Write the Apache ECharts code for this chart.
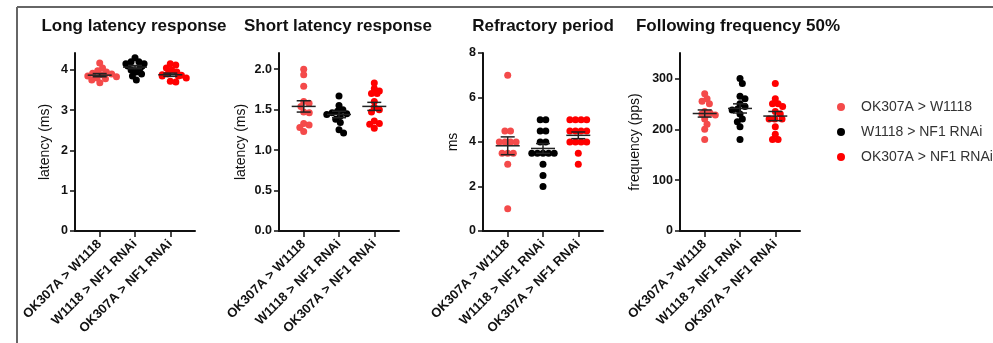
<!DOCTYPE html>
<html>
<head>
<meta charset="utf-8">
<script src="https://cdn.jsdelivr.net/npm/echarts@6/dist/echarts.min.js"></script>
<style>
  html, body { margin: 0; padding: 0; background: #fff; }
  #chart { width: 993px; height: 343px; }
</style>
</head>
<body>
<div id="chart"></div>
<script>
// groups shared by every panel
const groups = ['OK307A > W1118', 'W1118 > NF1 RNAi', 'OK307A > NF1 RNAi'];
const groupColors = ['#f44a4a', '#000000', '#ff0000'];

const titles = ['Long latency response', 'Short latency response', 'Refractory period', 'Following frequency 50%'];
const yNames = ['latency (ms)', 'latency (ms)', 'ms', 'frequency (pps)'];
const yMax = [4.42, 2.2, 8, 350];
const yTicks = [[0, 1, 2, 3, 4], [0, 0.5, 1, 1.5, 2], [0, 2, 4, 6, 8], [0, 100, 200, 300]];
const yDecimals = [0, 1, 0, 0];

// individual animals, one array per group
const longLatency = [
    [4.17, 4.05, 3.98, 3.95, 3.92, 3.9, 3.88, 3.85, 3.83, 3.8, 3.78, 3.75, 3.68],
    [4.3, 4.2, 4.2, 4.15, 4.15, 4.1, 4.1, 4.05, 4.0, 3.95, 3.9, 3.85, 3.75],
    [4.15, 4.12, 4.05, 4.0, 3.95, 3.9, 3.88, 3.87, 3.85, 3.85, 3.8, 3.72, 3.7]
];
const shortLatency = [
    [2.0, 1.93, 1.79, 1.6, 1.58, 1.54, 1.47, 1.46, 1.33, 1.31, 1.28, 1.23],
    [1.67, 1.55, 1.5, 1.48, 1.46, 1.45, 1.44, 1.42, 1.38, 1.34, 1.25, 1.21],
    [1.83, 1.76, 1.73, 1.7, 1.7, 1.6, 1.53, 1.5, 1.47, 1.36, 1.33, 1.32, 1.27]
];
const refractory = [
    [7, 4.5, 4.5, 4, 4, 4, 4, 3.5, 3.5, 3.5, 3, 1],
    [5, 5, 4.5, 4.5, 4, 4, 3.5, 3.5, 3.5, 3.5, 3.5, 3, 2.5, 2],
    [5, 5, 5, 5, 4.5, 4.5, 4.5, 4.5, 4, 4, 4, 4, 3.5, 3]
];
const following = [
    [270, 260, 255, 250, 235, 232, 230, 230, 228, 220, 210, 200, 180],
    [300, 290, 265, 260, 250, 245, 240, 238, 230, 220, 215, 205, 180],
    [290, 260, 250, 250, 245, 235, 230, 220, 220, 220, 205, 190, 180, 180]
];

// mean and SEM
const longMeans = [3.87, 4.07, 3.88];
const longSems = [0.04, 0.04, 0.04];
const shortMeans = [1.54, 1.44, 1.54];
const shortSems = [0.07, 0.04, 0.05];
const refrMeans = [3.83, 3.71, 4.3];
const refrSems = [0.4, 0.22, 0.15];
const followMeans = [231, 241, 226];
const followSems = [7, 9, 9];

const panelValues = [longLatency, shortLatency, refractory, following];
const panelMeans = [longMeans, shortMeans, refrMeans, followMeans];
const panelSems = [longSems, shortSems, refrSems, followSems];

const FONT = '"Liberation Sans", Arial, sans-serif';
const DOT = 7;
const gridLefts = [75, 279, 483, 680];
const nameGaps = [23, 31, 23, 38];
const titleX = [134, 338, 543, 738];

const chart = echarts.init(document.getElementById('chart'));

function meanSemItem(params, api) {
    const x = api.value(0), m = api.value(1), s = api.value(2);
    const c = api.coord([x, m]);
    const hi = api.coord([x, m + s]);
    const lo = api.coord([x, m - s]);
    const st = { stroke: '#222', lineWidth: 1.5 };
    return {
        type: 'group',
        children: [
            { type: 'line', shape: { x1: c[0] - 12, y1: c[1], x2: c[0] + 12, y2: c[1] }, style: st },
            { type: 'line', shape: { x1: c[0], y1: hi[1], x2: c[0], y2: lo[1] }, style: st },
            { type: 'line', shape: { x1: c[0] - 7, y1: hi[1], x2: c[0] + 7, y2: hi[1] }, style: st },
            { type: 'line', shape: { x1: c[0] - 7, y1: lo[1], x2: c[0] + 7, y2: lo[1] }, style: st }
        ]
    };
}

const grids = [], xAxes = [], yAxes = [], series = [], graphics = [];

panelValues.forEach((vals, p) => {
    grids.push({ left: gridLefts[p], top: 53, width: 120, height: 178 });
    xAxes.push({
        type: 'value', gridIndex: p, min: -0.7, max: 2.7,
        splitLine: { show: false },
        axisLine: { onZero: false, lineStyle: { color: '#111', width: 2 } },
        axisTick: { customValues: [0, 1, 2], length: 6, lineStyle: { color: '#111', width: 1.5 } },
        axisLabel: {
            customValues: [0, 1, 2], formatter: v => groups[v], rotate: 45, margin: 11,
            color: '#111', fontWeight: 'bold', fontSize: 13, fontFamily: FONT
        }
    });
    yAxes.push({
        type: 'value', gridIndex: p, min: 0, max: yMax[p],
        name: yNames[p], nameLocation: 'middle', nameGap: nameGaps[p],
        nameTextStyle: { color: '#111', fontSize: 14, fontFamily: FONT },
        splitLine: { show: false },
        axisLine: { show: true, onZero: false, lineStyle: { color: '#111', width: 2 } },
        axisTick: { show: true, customValues: yTicks[p], length: 5, lineStyle: { color: '#111', width: 1.5 } },
        axisLabel: {
            customValues: yTicks[p], formatter: v => v.toFixed(yDecimals[p]),
            color: '#111', fontWeight: 'bold', fontSize: 12.5, fontFamily: FONT, margin: 7
        }
    });
    vals.forEach((g, k) => {
        series.push({
            id: 'dots-' + p + '-' + k, name: groups[k], type: 'scatter',
            xAxisIndex: p, yAxisIndex: p, symbolSize: DOT,
            itemStyle: { color: groupColors[k], opacity: 1 },
            data: g.map(v => [k, v]), z: 2
        });
    });
    series.push({
        type: 'custom', xAxisIndex: p, yAxisIndex: p, z: 5,
        renderItem: meanSemItem,
        data: panelMeans[p].map((m, k) => [k, m, panelSems[p][k]])
    });
    graphics.push({
        type: 'text', x: titleX[p], y: 26,
        style: { text: titles[p], align: 'center', verticalAlign: 'middle', fill: '#111', font: 'bold 17px ' + FONT }
    });
});

// frame lines of the figure
graphics.push({ type: 'line', shape: { x1: 17, y1: 7, x2: 993, y2: 7 }, style: { stroke: '#666', lineWidth: 2 } });
graphics.push({ type: 'line', shape: { x1: 17, y1: 7, x2: 17, y2: 343 }, style: { stroke: '#666', lineWidth: 2 } });

chart.setOption({
    animation: false,
    backgroundColor: '#fff',
    grid: grids,
    xAxis: xAxes,
    yAxis: yAxes,
    legend: {
        data: groups, orient: 'vertical', left: 832, top: 95,
        icon: 'circle', itemWidth: 8, itemHeight: 8, itemGap: 11,
        textStyle: { color: '#333', fontSize: 14, fontFamily: FONT, padding: [0, 0, 0, 11] }
    },
    graphic: graphics,
    series: series
});

// beeswarm: each dot goes to the free spot nearest the group centre
function swarm(vals, p, cat) {
    const D = DOT * 0.8;
    const py = vals.map(v => chart.convertToPixel({ gridIndex: p }, [cat, v])[1]);
    const unit = chart.convertToPixel({ gridIndex: p }, [1, 0])[0] - chart.convertToPixel({ gridIndex: p }, [0, 0])[0];
    const order = vals.map((v, i) => i).sort((a, b) => py[a] - py[b]);
    const placed = [];
    const xs = new Array(vals.length);
    order.forEach(i => {
        const cands = [0];
        placed.forEach(q => {
            const dy = Math.abs(py[i] - q.y);
            if (dy < D) {
                const dx = Math.sqrt(D * D - dy * dy);
                cands.push(q.x + dx, q.x - dx);
            }
        });
        cands.sort((a, b) => Math.abs(a) - Math.abs(b));
        let best = cands[cands.length - 1];
        for (const c of cands) {
            if (placed.every(q => (q.x - c) ** 2 + (q.y - py[i]) ** 2 >= D * D - 0.01)) { best = c; break; }
        }
        xs[i] = best;
        placed.push({ x: best, y: py[i] });
    });
    // centre rows of identical values
    const byVal = {};
    vals.forEach((v, i) => (byVal[v] = byVal[v] || []).push(i));
    Object.values(byVal).forEach(idx => {
        if (idx.length < 2) return;
        const m = idx.reduce((s, i) => s + xs[i], 0) / idx.length;
        idx.forEach(i => (xs[i] -= m));
    });
    return vals.map((v, i) => [cat + xs[i] / unit, v]);
}

const updates = [];
panelValues.forEach((vals, p) => {
    vals.forEach((g, k) => updates.push({ id: 'dots-' + p + '-' + k, data: swarm(g, p, k) }));
});
chart.setOption({ series: updates });
</script>
</body>
</html>
